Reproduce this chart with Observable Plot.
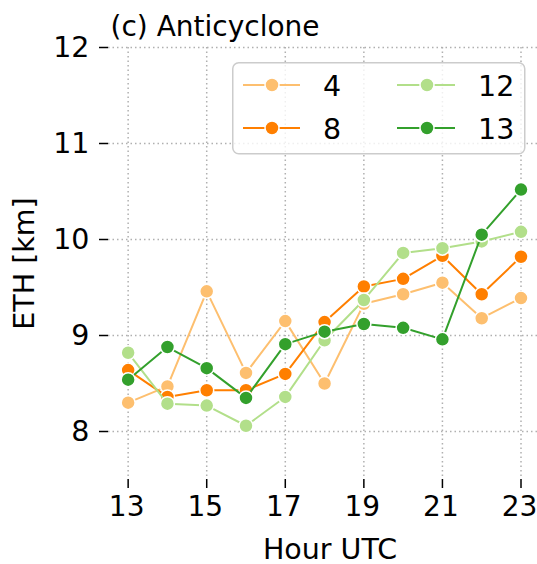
<!DOCTYPE html>
<html>
<head>
<meta charset="utf-8">
<script src="https://cdn.jsdelivr.net/npm/d3@7"></script>
<script src="https://cdn.jsdelivr.net/npm/@observablehq/plot@0.6"></script>
<style>
  html, body { margin: 0; padding: 0; background: white; overflow: hidden; }
  #wrap { position: relative; width: 537px; height: 564px; overflow: hidden; font-family: "DejaVu Sans", sans-serif; }
  #chart svg { max-width: none !important; }
  #legend { position: absolute; left: 232px; top: 62px; }
</style>
</head>
<body>
<div id="wrap"><div id="chart"></div><svg id="legend" width="294" height="93"></svg></div>
<script>
const hours = [13, 14, 15, 16, 17, 18, 19, 20, 21, 22, 23];
const seriesNames = ["4", "8", "12", "13"];
const eth4  = [8.30, 8.47, 9.46, 8.61, 9.15, 8.50, 9.33, 9.43, 9.55, 9.18, 9.39];
const eth8  = [8.64, 8.36, 8.43, 8.43, 8.60, 9.14, 9.51, 9.59, 9.83, 9.43, 9.82];
const eth12 = [8.82, 8.29, 8.27, 8.06, 8.36, 8.95, 9.37, 9.86, 9.91, 9.98, 10.08];
const eth13 = [8.54, 8.88, 8.66, 8.35, 8.91, 9.04, 9.12, 9.08, 8.96, 10.05, 10.52];
const colors = ["#fdbf6f", "#ff7f00", "#b2df8a", "#33a02c"];
const xTicks = [13, 15, 17, 19, 21, 23];
const yTicks = [8, 9, 10, 11, 12];
const titleText = "(c) Anticyclone";
const xLabel = "Hour UTC";
const yLabel = "ETH [km]";

const values = [eth4, eth8, eth12, eth13];
const seriesMarks = [];
seriesNames.forEach((name, s) => {
  const rows = hours.map((h, i) => ({hour: h, eth: values[s][i], series: name}));
  seriesMarks.push(Plot.line(rows, {x: "hour", y: "eth", stroke: colors[s], strokeWidth: 2}));
  seriesMarks.push(Plot.dot(rows, {x: "hour", y: "eth", r: 7, fill: colors[s], stroke: "white", strokeWidth: 1.5}));
});

const gridStyle = {stroke: "#b0b0b0", strokeOpacity: 1, strokeWidth: 1.5, strokeDasharray: "1.5,3"};
const fs = 28.5;

const chart = Plot.plot({
  width: 537,
  height: 564,
  marginLeft: 108,
  marginRight: 0,
  marginTop: 47,
  marginBottom: 85,
  style: {fontFamily: "DejaVu Sans", fontSize: fs + "px", color: "black", background: "white", overflow: "visible", maxWidth: "none"},
  x: {domain: [12.5, 23.42]},
  y: {domain: [7.5, 12]},
  marks: [
    Plot.gridX(xTicks, gridStyle),
    Plot.gridY(yTicks, gridStyle),
    ...seriesMarks,
    Plot.axisX({ticks: xTicks, tickSize: 9, line: true, strokeWidth: 1.5, label: null, text: null}),
    Plot.axisX({ticks: xTicks, tickSize: 0, tickPadding: 17, fontSize: 28, dx: -1.5,
      tickFormat: d3.format("d"), label: null}),
    Plot.axisY({ticks: yTicks, tickSize: 9, tickPadding: 10, line: true, strokeWidth: 1.5, fontSize: fs,
      tickFormat: d3.format("d"), label: null}),
    Plot.text([xLabel], {frameAnchor: "bottom", text: d => d, textAnchor: "middle", lineAnchor: "bottom", dx: 7, dy: 79, fontSize: fs, fill: "black"}),
    Plot.text([yLabel], {frameAnchor: "left", text: d => d, textAnchor: "middle", lineAnchor: "top", rotate: -90, dx: -95, fontSize: fs, fill: "black"}),
    Plot.text([titleText], {frameAnchor: "top-left", text: d => d, textAnchor: "start", lineAnchor: "bottom", dx: 2, dy: -12, fontSize: 28, fill: "black"})
  ]
});
document.getElementById("chart").appendChild(chart);

// legend
const lg = d3.select("#legend");
lg.append("rect").attr("x", 0.75).attr("y", 0.75).attr("width", 292).attr("height", 91)
  .attr("rx", 6).attr("fill", "white").attr("fill-opacity", 0.8).attr("stroke", "#cccccc").attr("stroke-width", 1.5);
const colX = [[11, 68, 40, 91], [165, 223, 195, 246]];
const rowY = [23, 66];
const order = [[0, 0, 0], [1, 0, 1], [2, 1, 0], [3, 1, 1]];
order.forEach(([s, c, r]) => {
  const [x1, x2, xm, xt] = colX[c];
  const y = rowY[r];
  lg.append("line").attr("x1", x1).attr("x2", x2).attr("y1", y).attr("y2", y).attr("stroke", colors[s]).attr("stroke-width", 2);
  lg.append("circle").attr("cx", xm).attr("cy", y).attr("r", 7).attr("fill", colors[s]).attr("stroke", "white").attr("stroke-width", 1.5);
  lg.append("text").attr("x", xt).attr("y", y + 10.5).attr("font-size", fs).attr("font-family", "DejaVu Sans").attr("fill", "black").text(seriesNames[s]);
});
</script>
</body>
</html>
